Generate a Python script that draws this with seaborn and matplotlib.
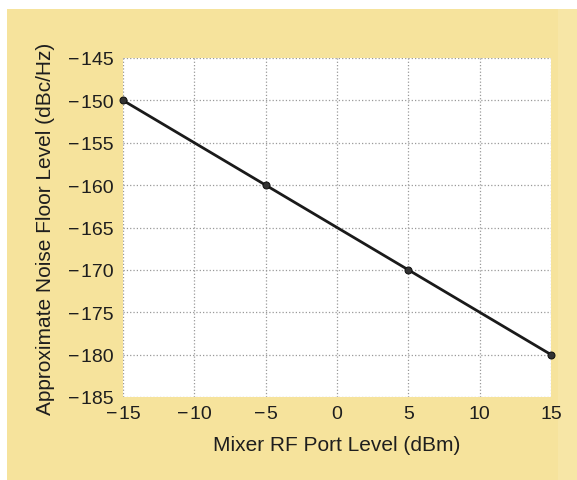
import matplotlib
matplotlib.use("Agg")
import matplotlib.pyplot as plt
import seaborn as sns
import pandas as pd
from matplotlib.patches import Rectangle

rf_level = [-15, -5, 5, 15]
noise_floor = [-150, -160, -170, -180]
xticks = [-15, -10, -5, 0, 5, 10, 15]
yticks = [-185, -180, -175, -170, -165, -160, -155, -150, -145]

sns.set_style("white")
plt.rcParams['font.family'] = ['Liberation Sans', 'DejaVu Sans']

df = pd.DataFrame({"x": rf_level, "y": noise_floor})

W, H = 577, 481
fig = plt.figure(figsize=(W / 100, H / 100), dpi=100, facecolor="white")
fig.patches.append(Rectangle((7 / W, 0), (W - 7) / W, (H - 10) / H,
                             transform=fig.transFigure, facecolor="#f6e39c",
                             edgecolor="none", zorder=-5))
fig.patches.append(Rectangle((558 / W, 0), (W - 558) / W, (H - 10) / H,
                             transform=fig.transFigure, facecolor="#f7e6a6",
                             edgecolor="none", zorder=-4))
ax = fig.add_axes([123 / W, 1 - 398 / H, (551 - 123) / W, (398 - 59) / H])
ax.set_zorder(2)
ax.set_facecolor("white")

sns.lineplot(data=df, x="x", y="y", ax=ax, color="#1a1a1a", linewidth=2,
             marker="o", markersize=5, markerfacecolor="#333333",
             markeredgecolor="#111111", zorder=3, clip_on=False)

def fmt(t):
    return f"\u2212\u200a{abs(t)}" if t < 0 else str(t)

ax.set_xlim(-15, 15)
ax.set_ylim(-185, -145)
ax.set_xticks(xticks)
ax.set_yticks(yticks)
ax.set_xticklabels([fmt(t) for t in xticks])
ax.set_yticklabels([fmt(t) for t in yticks])
ax.grid(True, linestyle=":", color="#999999", linewidth=0.9)
ax.tick_params(direction="in", length=4, labelsize=14, color="#888888",
               labelcolor="#1e1e1e")
ax.tick_params(axis="x", pad=6)
ax.tick_params(axis="y", pad=7)
for s in ax.spines.values():
    s.set_visible(False)

ax.set_xlabel("Mixer RF Port Level (dBm)", fontsize=15, labelpad=9, color="#1e1e1e")
ax.set_ylabel("Approximate Noise Floor Level (dBc/Hz)", fontsize=15, labelpad=9,
              color="#1e1e1e")

fig.savefig("out.png", dpi=100, facecolor="white")
